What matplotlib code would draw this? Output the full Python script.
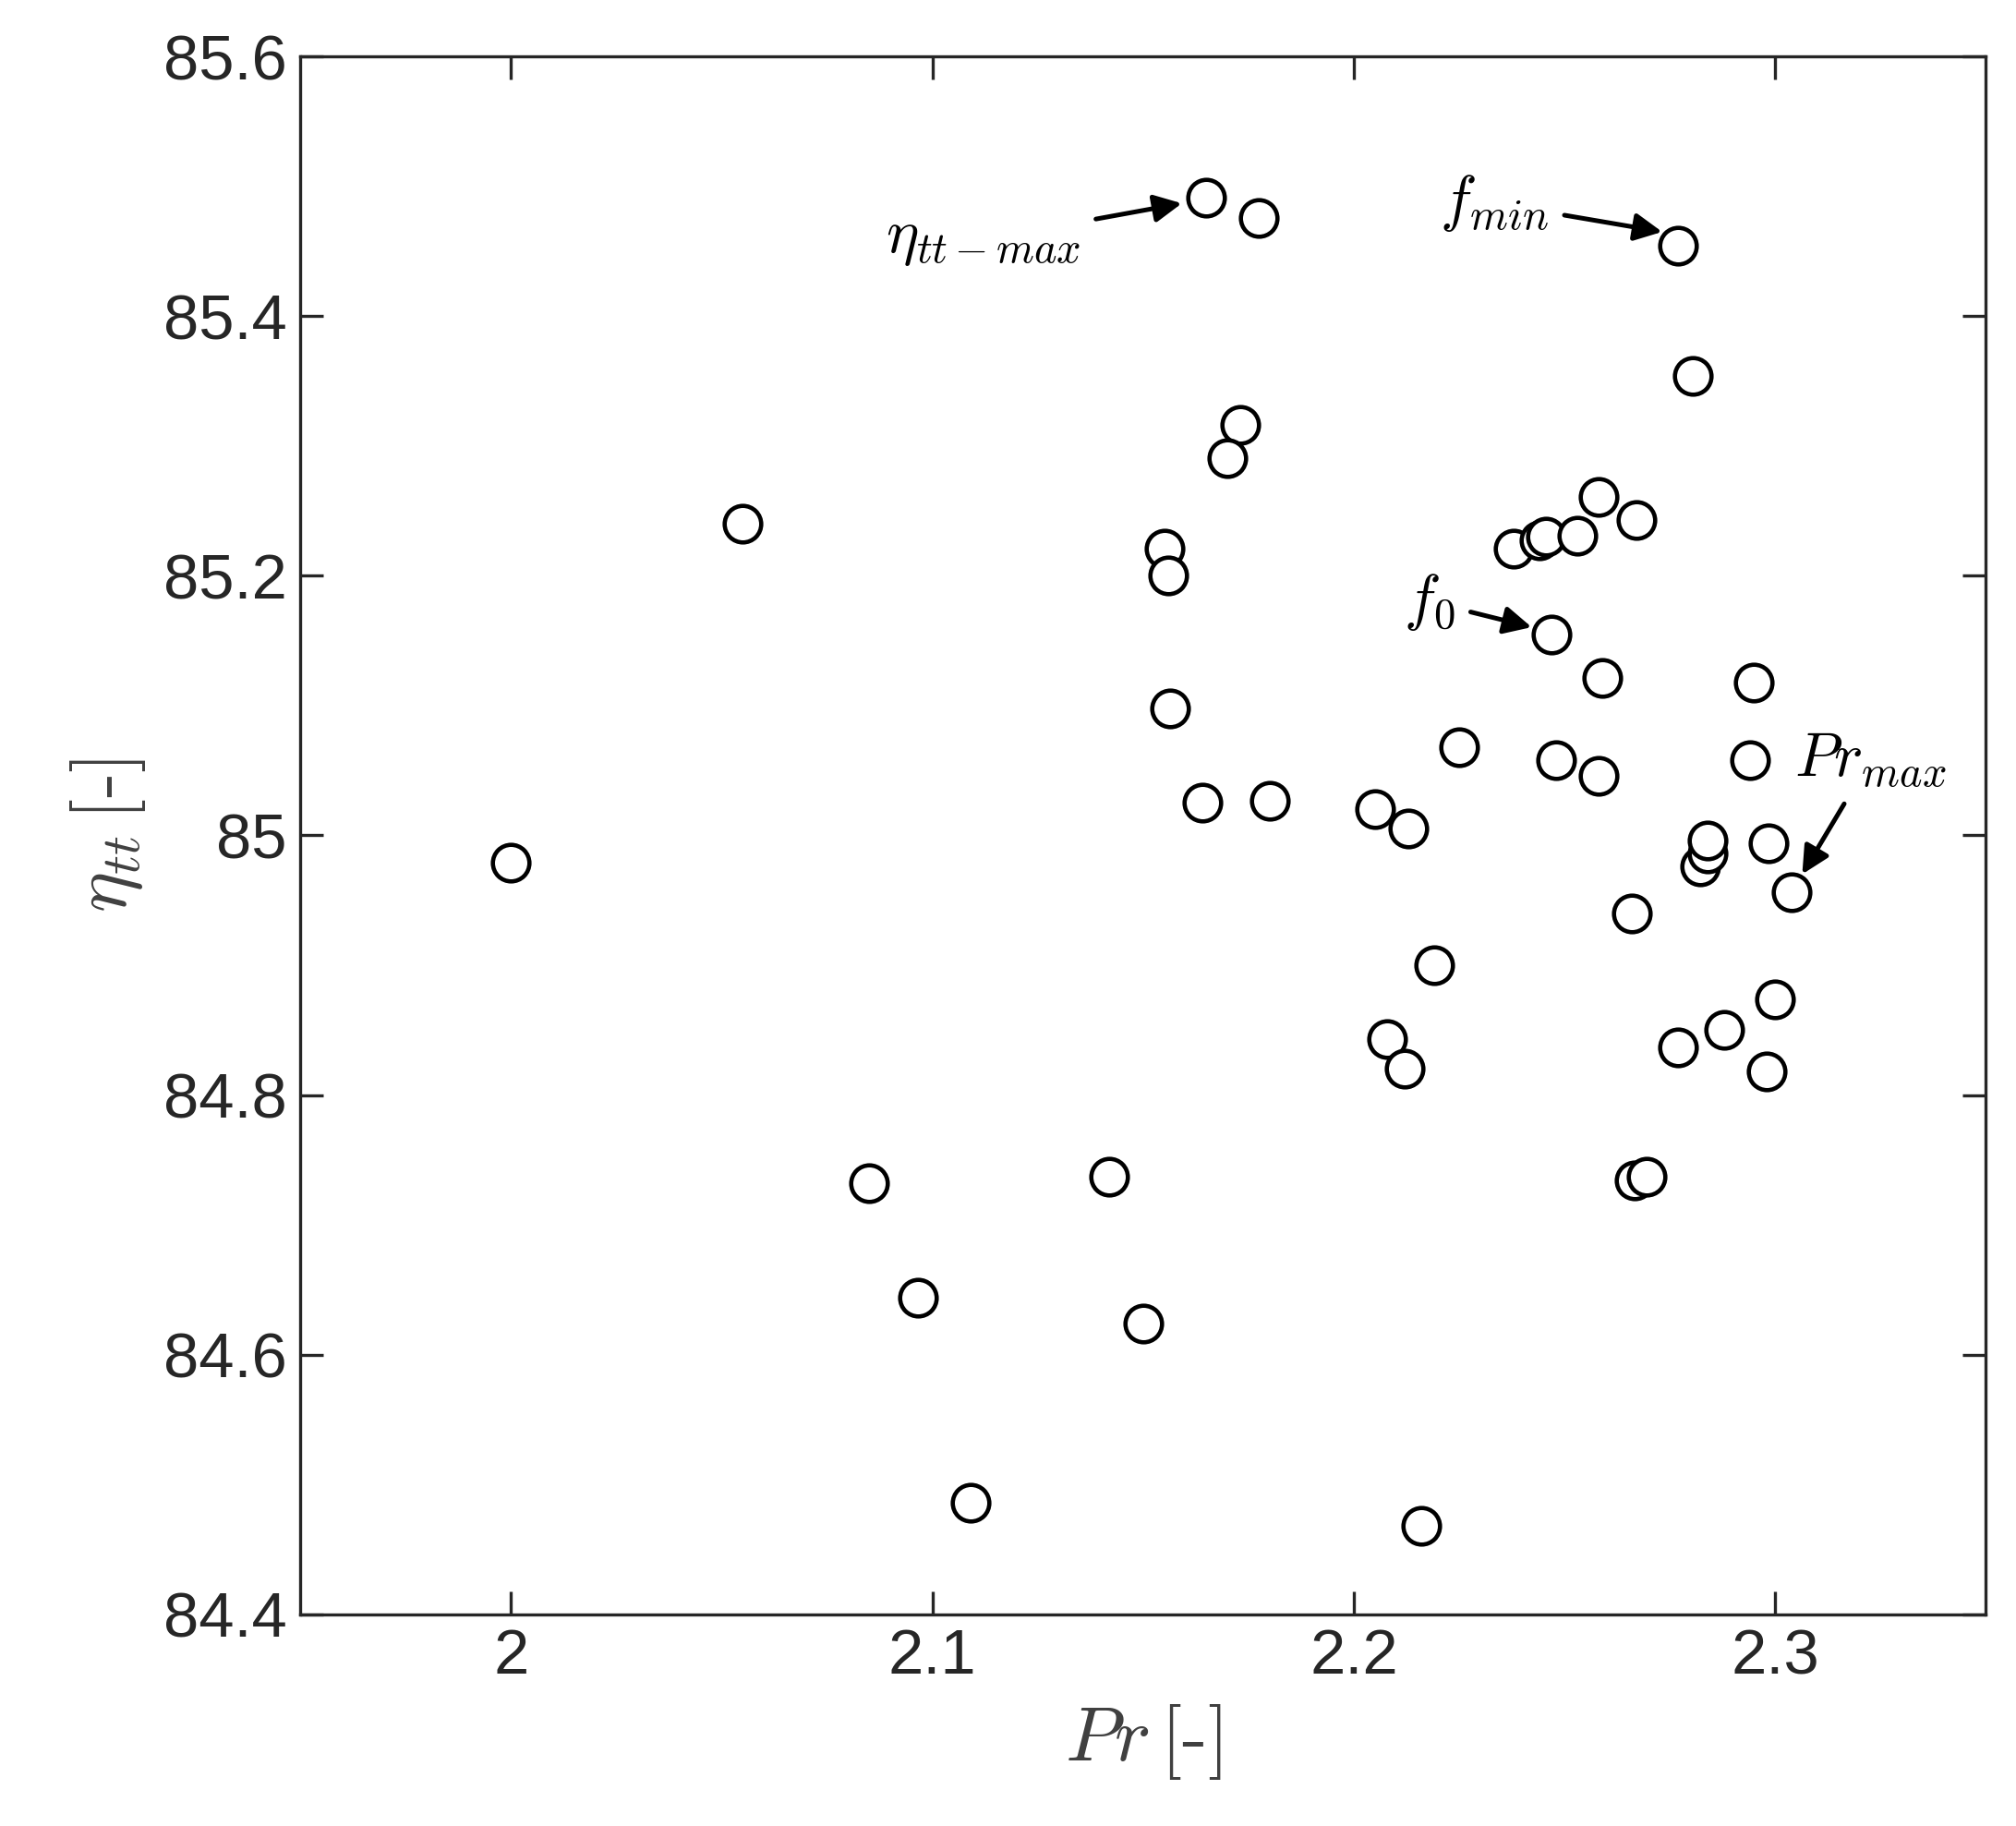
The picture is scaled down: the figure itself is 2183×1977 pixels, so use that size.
import numpy as np
import matplotlib.pyplot as plt

plt.rcParams['mathtext.fontset'] = 'cm'
plt.rcParams['font.family'] = ['Arial', 'Liberation Sans', 'DejaVu Sans']

pr = [2.000, 2.055, 2.085, 2.0966, 2.109, 2.142, 2.150, 2.165, 2.1775, 2.173,
      2.170, 2.155, 2.156, 2.1565, 2.164, 2.180, 2.205, 2.213, 2.225, 2.219,
      2.208, 2.212, 2.216, 2.238, 2.244, 2.2456, 2.253, 2.258, 2.267, 2.247,
      2.259, 2.248, 2.258, 2.277, 2.2805, 2.266, 2.2667, 2.2695, 2.277, 2.2823,
      2.284, 2.284, 2.288, 2.295, 2.294, 2.2985, 2.300, 2.298, 2.304]
eta = [84.979, 85.240, 84.732, 84.644, 84.486, 84.737, 84.624, 85.491, 85.476, 85.316,
       85.291, 85.221, 85.200, 85.098, 85.025, 85.027, 85.020, 85.005, 85.068, 84.900,
       84.843, 84.820, 84.468, 85.221, 85.227, 85.230, 85.231, 85.261, 85.243, 85.155,
       85.121, 85.058, 85.046, 85.454, 85.354, 84.940, 84.734, 84.737, 84.837, 84.976,
       84.986, 84.996, 84.850, 85.118, 85.058, 84.994, 84.874, 84.818, 84.956]

fig = plt.figure(figsize=(2183/300, 1977/300), dpi=300)
ax = fig.add_axes([0.149, 0.116, 0.836, 0.853])
ax.plot(pr, eta, 'o', mfc='white', mec='black', ms=9.5, mew=1.1, ls='none')
ax.set_xlim(1.95, 2.35)
ax.set_ylim(84.4, 85.6)
ax.set_xticks([2, 2.1, 2.2, 2.3])
ax.set_xticklabels(['2', '2.1', '2.2', '2.3'])
ax.set_yticks([84.4, 84.6, 84.8, 85, 85.2, 85.4, 85.6])
ax.set_yticklabels(['84.4', '84.6', '84.8', '85', '85.2', '85.4', '85.6'])
ax.tick_params(direction='in', top=True, right=True, labelsize=16.5, length=6,
               colors='#262626', labelcolor='#262626')
for s in ax.spines.values():
    s.set_color('#262626')
ax.set_xlabel(r'$Pr\,[\mathrm{\text{-}}]$', fontsize=20, color='#404040')
ax.set_ylabel(r'$\eta_{tt}\,[\mathrm{\text{-}}]$', fontsize=20, color='#404040')

ap = dict(arrowstyle='-|>', color='black', lw=1.2, mutation_scale=15)
ax.annotate(r'$\eta_{tt-max}$', xy=(2.161, 85.488), xytext=(2.112, 85.459),
            fontsize=16, ha='center', va='center', arrowprops=ap)
ax.annotate(r'$f_{min}$', xy=(2.275, 85.464), xytext=(2.2334, 85.487),
            fontsize=16, ha='center', va='center', arrowprops=ap)
ax.annotate(r'$f_0$', xy=(2.244, 85.159), xytext=(2.218, 85.18),
            fontsize=16, ha='center', va='center', arrowprops=ap)
ax.annotate(r'$Pr_{max}$', xy=(2.3055, 84.965), xytext=(2.3226, 85.058),
            fontsize=16, ha='center', va='center', arrowprops=ap)

fig.savefig('out.png', dpi=300)
